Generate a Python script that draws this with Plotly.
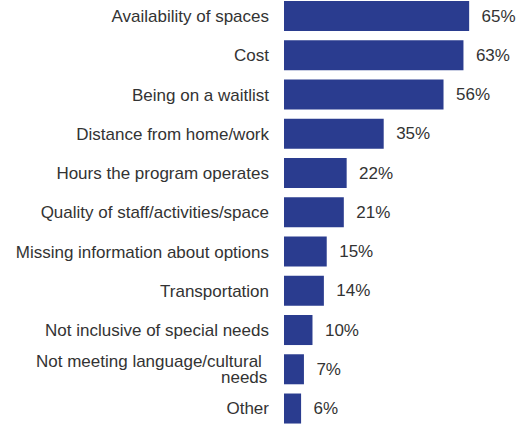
import plotly.graph_objects as go

# ── Données ───────────────────────────────────────────────────────────────────
categories = [
    "Availability of spaces",
    "Cost",
    "Being on a waitlist",
    "Distance from home/work",
    "Hours the program operates",
    "Quality of staff/activities/space",
    "Missing information about options",
    "Transportation",
    "Not inclusive of special needs",
    "Not meeting language/cultural needs",
    "Other",
]
values = [65, 63, 56, 35, 22, 21, 15, 14, 10, 7, 6]
value_labels = [f"\u00a0\u00a0{v}%" for v in values]

# étiquette sur deux lignes (interligne serré) -> annotations
wrapped = {"Not meeting language/cultural needs": ["Not meeting language/cultural\u00a0", "needs"]}

BAR = "#2a3c8f"
TXT = "#333333"
FONT = "Liberation Sans, Arial, sans-serif"

fig = go.Figure(go.Bar(
    x=values,
    y=categories,
    orientation="h",
    marker=dict(color=BAR, line=dict(width=0)),
    text=value_labels,
    textposition="outside",
    textfont=dict(color=TXT, size=17, family=FONT),
    cliponaxis=False,
    width=0.765,
    hoverinfo="skip",
))

ticktext = ["" if c in wrapped else c for c in categories]

fig.update_layout(
    width=523, height=425,
    paper_bgcolor="white",
    plot_bgcolor="white",
    margin=dict(l=284, r=0, t=0, b=0),
    showlegend=False,
    font=dict(family=FONT, size=17, color=TXT),
    xaxis=dict(visible=False, range=[0, 83.9], fixedrange=True),
    yaxis=dict(
        type="category",
        range=[10.42, -0.41],
        tickmode="array", tickvals=categories, ticktext=ticktext,
        showgrid=False, zeroline=False, showline=False,
        ticks="", ticklabelstandoff=14,
        tickfont=dict(color=TXT, size=17, family=FONT),
        fixedrange=True,
    ),
)

for cat, lines in wrapped.items():
    for line, shift in zip(lines, [8, -8]):
        fig.add_annotation(
            x=0, xref="paper", y=cat, yref="y",
            text=line, showarrow=False,
            xanchor="right", yanchor="middle",
            xshift=-15, yshift=shift,
            font=dict(color=TXT, size=17, family=FONT),
        )

# pas de marge de page autour de la figure
fig.write_html(
    "out.html",
    config={"displayModeBar": False},
    post_script="document.body.style.margin='0';",
)
